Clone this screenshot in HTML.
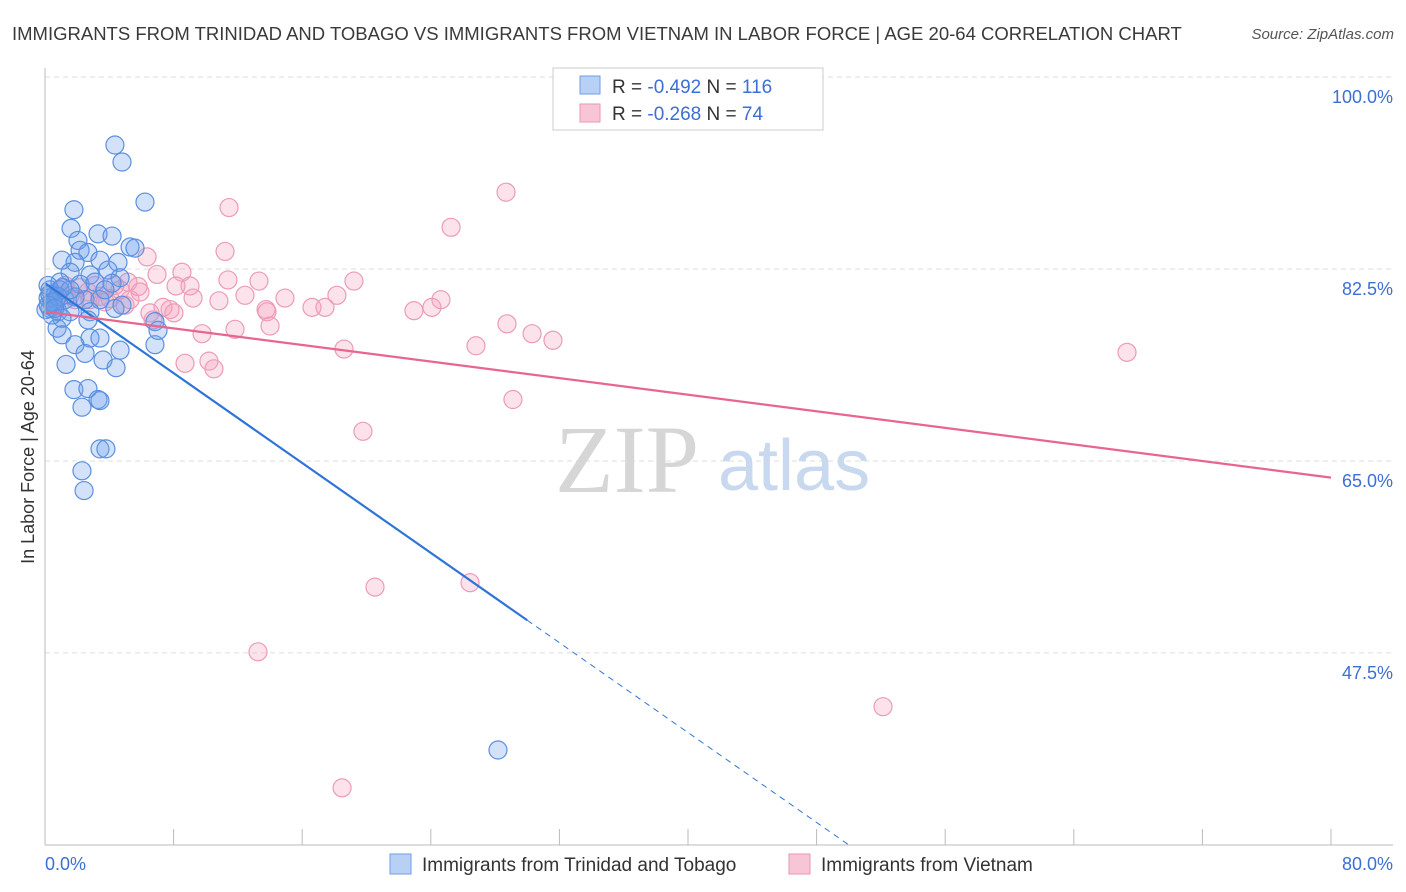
<!DOCTYPE html>
<html><head><meta charset="utf-8"><style>
body{margin:0;background:#fff;font-family:"Liberation Sans",sans-serif;}
svg{display:block}
</style></head><body>
<svg id="chart" width="1406" height="892" viewBox="0 0 1406 892" xmlns="http://www.w3.org/2000/svg">
<text x="12" y="40" font-size="18.5" fill="#3a3a3a">IMMIGRANTS FROM TRINIDAD AND TOBAGO VS IMMIGRANTS FROM VIETNAM IN LABOR FORCE | AGE 20-64 CORRELATION CHART</text>
<text x="1394" y="39" font-size="15" fill="#555" font-style="italic" text-anchor="end">Source: ZipAtlas.com</text>
<g id="grid"></g>
<g><text x="555" y="492" font-size="96" fill="#d6d6d6" font-family="Liberation Serif, serif">ZIP</text><text x="718" y="490" font-size="72" fill="#c8d8ee">atlas</text></g>
<g id="pts"></g>
<g id="lines"></g>
<g id="axes"></g>
<text transform="translate(34,457) rotate(-90)" font-size="18" fill="#333" text-anchor="middle">In Labor Force | Age 20-64</text>
<g>
<rect x="553" y="68" width="270" height="62" fill="#fff" stroke="#ccc"/>
<rect x="580" y="76" width="20" height="18" fill="#b8d0f4" stroke="#6f9ee6"/>
<rect x="580" y="104" width="20" height="18" fill="#f8c5d6" stroke="#ea96b4"/>
<text x="612" y="93" font-size="19" fill="#333">R = <tspan fill="#3b6fd4">-0.492</tspan>   N = <tspan fill="#3b6fd4">116</tspan></text>
<text x="612" y="120" font-size="19" fill="#333">R = <tspan fill="#3b6fd4">-0.268</tspan>   N =  <tspan fill="#3b6fd4"> 74</tspan></text>
</g>
<g>
<rect x="390" y="854" width="21" height="20" fill="#b8d0f4" stroke="#6f9ee6"/>
<text x="422" y="871" font-size="19" fill="#333">Immigrants from Trinidad and Tobago</text>
<rect x="789" y="854" width="21" height="20" fill="#f8c5d6" stroke="#ea96b4"/>
<text x="821" y="871" font-size="19" fill="#333">Immigrants from Vietnam</text>
</g>
</svg>
<script>
const yTicks=[100,82.5,65,47.5];
const yTickLabels=["100.0%","82.5%","65.0%","47.5%"];
const xTickLabels=["0.0%","80.0%"];
const blueX=[4.35,4.79,6.22,1.8,1.62,2.05,3.3,4.17,5.29,5.6,2.18,2.67,1.06,1.87,3.42,4.54,1.56,2.8,3.92,4.67,0.93,2.18,3.11,4.17,0.31,0.62,1.24,1.87,2.49,3.42,4.35,4.79,0.31,0.81,1.56,2.8,0.19,0.44,0.68,1.06,2.67,0.75,1.06,2.8,3.42,1.87,2.49,4.67,6.84,7.03,6.84,1.31,3.61,4.42,1.8,2.67,3.3,2.3,3.42,3.42,3.79,2.3,2.43,28.18,0.19,0.06,0.44,0.93,3.73,1.56,0.3,0.5,0.8,1.1,0.2,0.6];
const blueY=[93.8,92.25,88.6,87.9,86.2,85.1,85.7,85.5,84.5,84.4,84.2,84.0,83.3,83.1,83.3,83.1,82.2,81.95,82.4,81.7,81.3,81.1,81.3,81.2,80.6,80.1,79.7,79.95,79.7,79.7,78.9,79.2,78.9,78.6,78.6,78.6,79.85,79.4,79.7,78.0,77.85,77.1,76.5,76.2,76.2,75.6,74.8,75.1,77.7,76.9,75.6,73.8,74.2,73.5,71.5,71.6,70.6,69.9,70.5,66.1,66.1,64.1,62.3,38.65,81.0,78.8,78.3,80.6,80.6,80.6,80.2,79.5,80.0,80.8,79.2,78.9];
const pinkX=[43.24,28.68,25.26,11.45,11.2,6.35,8.52,6.97,11.38,13.31,19.22,8.15,9.02,12.44,14.93,18.16,24.63,24.07,22.95,16.61,17.42,9.21,10.82,13.75,13.81,7.78,7.34,8.02,6.53,6.72,14.0,11.82,9.77,28.74,30.3,31.6,26.81,18.6,8.71,10.2,10.51,29.11,19.78,67.31,26.44,20.53,13.25,52.13,18.48,0.93,1.56,2.18,2.8,3.42,4.04,4.98,5.79,5.16,4.35,0.31,0.62,1.24,3.11,3.73,4.67,5.91,2.67,1.87,5.29];
const pinkY=[99.7,89.5,86.3,88.1,84.1,83.6,82.2,82.0,81.5,81.4,81.4,80.95,80.95,80.1,79.85,80.1,79.7,79.0,78.7,79.0,79.0,79.85,79.6,78.8,78.6,78.8,79.0,78.5,78.5,77.85,77.3,77.0,76.6,77.5,76.6,76.0,75.5,75.2,73.9,74.1,73.4,70.6,67.7,74.9,53.9,53.5,47.6,42.6,35.2,80.6,80.1,80.8,79.7,80.0,79.8,79.2,80.9,81.3,81.0,80.1,79.2,81.0,81.0,79.5,80.6,80.4,80.4,79.7,79.7];
const blueTrend=[81.2,-1.024];
const pinkTrend=[78.6,-0.189];
const X0=45,X1=1331,Y0=77,PXY=10.97;
const sx=v=>X0+(X1-X0)*v/80;
const sy=v=>Y0+(100-v)*PXY;
const NS="http://www.w3.org/2000/svg";
function mk(tag,attrs,parent){const e=document.createElementNS(NS,tag);for(const k in attrs)e.setAttribute(k,attrs[k]);parent.appendChild(e);return e;}
const grid=document.getElementById('grid'),axes=document.getElementById('axes');
yTicks.forEach((t,i)=>{
 const l=mk('line',{x1:45,x2:1393,y1:sy(t),y2:sy(t),stroke:'#dedede','stroke-dasharray':'5,4'},grid);
 
 
 const tx=mk('text',{x:1393,y:sy(t)+26,'font-size':18,fill:'#3b6fd4','text-anchor':'end'},axes);
 tx.textContent=yTickLabels[i];
 
 
});
mk('line',{x1:45,x2:45,y1:68,y2:845,stroke:'#bbb'},axes);
mk('line',{x1:45,x2:1393,y1:845,y2:845,stroke:'#bbb'},axes);
for(let i=0;i<=10;i++){const tk=mk('line',{x1:sx(i*8),x2:sx(i*8),y1:829,y2:845,stroke:'#bbb'},axes);
 
 }
const xl0=mk('text',{x:45,y:870,'font-size':18,fill:'#3b6fd4'},axes);xl0.textContent=xTickLabels[0];


const xl1=mk('text',{x:1393,y:870,'font-size':18,fill:'#3b6fd4','text-anchor':'end'},axes);xl1.textContent=xTickLabels[1];


const pts=document.getElementById('pts');
pinkX.forEach((x,i)=>{const c=mk('circle',{cx:sx(x),cy:sy(pinkY[i]),r:9,fill:'rgba(244,160,190,0.3)',stroke:'#ec9bb8','stroke-width':1.2},pts);
 
 });
blueX.forEach((x,i)=>{const c=mk('circle',{cx:sx(x),cy:sy(blueY[i]),r:9,fill:'rgba(110,160,235,0.3)',stroke:'#5a90e0','stroke-width':1.2},pts);
 
 });
const lines=document.getElementById('lines');
const bEnd=30,bDash=(30-blueTrend[0])/blueTrend[1];
const bl=mk('line',{x1:sx(0),y1:sy(blueTrend[0]),x2:sx(bEnd),y2:sy(blueTrend[0]+blueTrend[1]*bEnd),stroke:'#2f74d8','stroke-width':2.2},lines);


const bd=mk('line',{x1:sx(bEnd),y1:sy(blueTrend[0]+blueTrend[1]*bEnd),x2:sx(bDash),y2:sy(30),stroke:'#2f74d8','stroke-width':1,'stroke-dasharray':'6,5'},lines);


const pl=mk('line',{x1:sx(0),y1:sy(pinkTrend[0]),x2:sx(80),y2:sy(pinkTrend[0]+pinkTrend[1]*80),stroke:'#e8658f','stroke-width':2.2},lines);


</script>
</body></html>
